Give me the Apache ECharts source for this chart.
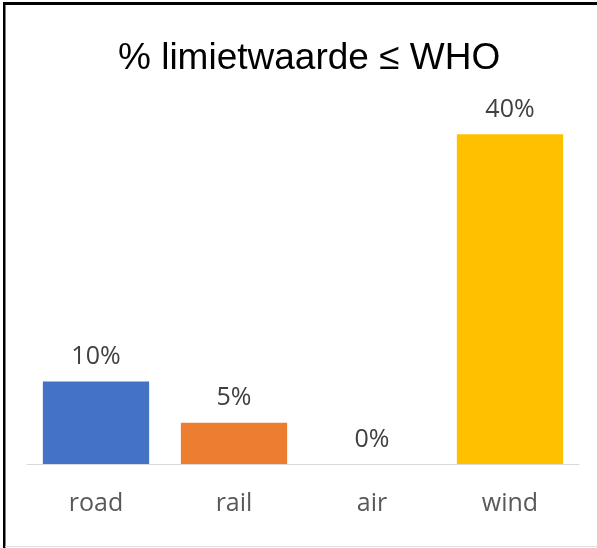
<!DOCTYPE html>
<html><head><meta charset="utf-8">
<script src="https://cdn.jsdelivr.net/npm/echarts@6/dist/echarts.min.js"></script>
<style>html,body{margin:0;padding:0;background:#fff}#c{width:597px;height:548px}</style>
</head><body><div id="c"></div>
<script>
const titleText = "% limietwaarde ≤ WHO";
const categories = ["road", "rail", "air", "wind"];
const values = [10, 5, 0, 40];
const colors = ["#4472C4", "#ED7D31", "#A5A5A5", "#FFC000"];

const chart = echarts.init(document.getElementById('c'), null, {renderer: 'canvas'});
chart.setOption({
  animation: false,
  backgroundColor: '#fff',
  title: {
    text: titleText, left: 113, top: 35,
    textStyle: {fontFamily: 'Liberation Sans', fontSize: 37, fontWeight: 'normal', color: '#000'}
  },
  grid: {left: 27, right: 18, top: 93, bottom: 84},
  xAxis: {
    type: 'category', data: categories,
    axisLine: {lineStyle: {color: '#D9D9D9', width: 1}},
    axisTick: {show: false},
    axisLabel: {fontFamily: 'Open Sans', fontSize: 25, color: '#595959', margin: 27}
  },
  yAxis: {type: 'value', min: 0, max: 45, show: false, splitLine: {show: false}},
  series: [{
    type: 'bar', barCategoryGap: '23%',
    data: values.map((v, i) => ({value: v, itemStyle: {color: colors[i]}})),
    label: {show: true, position: 'top', distance: 12, formatter: '{c}%',
      fontFamily: 'Open Sans', fontSize: 25, color: '#404040'}
  }],
  graphic: [
    {type: 'rect', shape: {x: 3, y: 2, width: 594, height: 3}, style: {fill: '#000'}},
    {type: 'rect', shape: {x: 3, y: 2, width: 2.5, height: 546}, style: {fill: '#000'}},
    {type: 'rect', shape: {x: 5, y: 546, width: 592, height: 1}, style: {fill: '#E0E0E0'}}
  ]
});
</script></body></html>
